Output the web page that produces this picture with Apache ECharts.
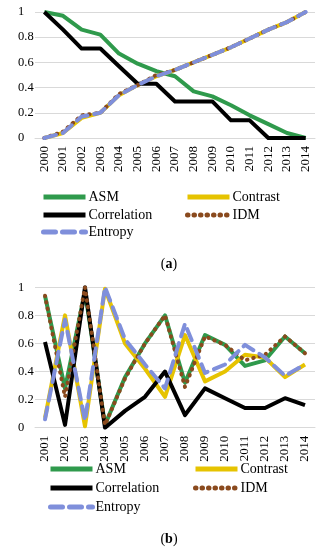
<!DOCTYPE html>
<html><head><meta charset="utf-8">
<script src="https://cdn.jsdelivr.net/npm/echarts@6/dist/echarts.min.js"></script>
<style>html,body{margin:0;padding:0;background:#fff}#c{width:328px;height:550px}</style>
</head><body><div id="c"></div>
<script>
var yearsA = ['2000','2001','2002','2003','2004','2005','2006','2007','2008','2009','2010','2011','2012','2013','2014'];
var asmA = [1.0, 0.97, 0.86, 0.82, 0.67, 0.59, 0.53, 0.49, 0.37, 0.33, 0.26, 0.18, 0.11, 0.04, 0];
var contrastA = [0, 0.04, 0.16, 0.2, 0.34, 0.42, 0.49, 0.54, 0.6, 0.66, 0.72, 0.79, 0.86, 0.92, 1.0];
var corrA = [1, 0.86, 0.71, 0.71, 0.57, 0.43, 0.43, 0.29, 0.29, 0.29, 0.14, 0.14, 0, 0, 0];
var idmA = [0, 0.05, 0.18, 0.2, 0.35, 0.42, 0.5, 0.54, 0.6, 0.66, 0.72, 0.79, 0.86, 0.92, 1.0];
var entA = [0, 0.04, 0.17, 0.2, 0.34, 0.42, 0.49, 0.54, 0.6, 0.66, 0.72, 0.79, 0.86, 0.92, 1.0];

var yearsB = ['2001','2002','2003','2004','2005','2006','2007','2008','2009','2010','2011','2012','2013','2014'];
var asmB = [0.94, 0.28, 0.97, 0.02, 0.36, 0.6, 0.8, 0.32, 0.66, 0.59, 0.44, 0.48, 0.65, 0.53];
var contrastB = [0.07, 0.8, 0.01, 0.99, 0.6, 0.42, 0.22, 0.66, 0.33, 0.4, 0.52, 0.5, 0.36, 0.45];
var corrB = [0.61, 0.02, 1.0, 0.0, 0.12, 0.22, 0.4, 0.09, 0.28, 0.21, 0.14, 0.14, 0.21, 0.16];
var idmB = [0.94, 0.22, 1.0, 0.02, 0.35, 0.6, 0.8, 0.29, 0.65, 0.59, 0.48, 0.52, 0.65, 0.53];
var entB = [0.06, 0.77, 0.05, 1.0, 0.63, 0.45, 0.28, 0.74, 0.39, 0.45, 0.59, 0.5, 0.37, 0.45];

var yTicks = [0, 0.2, 0.4, 0.6, 0.8, 1];
var names = ['ASM', 'Contrast', 'Correlation', 'IDM', 'Entropy'];

var FONT = '"Liberation Serif", "DejaVu Serif", serif';
var colors = {ASM:'#2f9a4c', Contrast:'#e6c300', Correlation:'#000000', IDM:'#8a4a1e', Entropy:'#7f8fdb'};
var styles = {
  ASM: {width:4, type:'solid'},
  Contrast: {width:4, type:'solid'},
  Correlation: {width:4, type:'solid'},
  IDM: {width:4, type:[0.5, 6], cap:'round'},
  Entropy: {width:4, type:[12, 7], cap:'round'}
};
var dataA = {ASM:asmA, Contrast:contrastA, Correlation:corrA, IDM:idmA, Entropy:entA};
var dataB = {ASM:asmB, Contrast:contrastB, Correlation:corrB, IDM:idmB, Entropy:entB};

function mkSeries(idx, data) {
  return names.map(function(n){
    return {
      name: n, type:'line', xAxisIndex: idx, yAxisIndex: idx,
      data: data[n], symbol:'none', smooth:false, animation:false,
      lineStyle: {color: colors[n], width: styles[n].width, type: styles[n].type, cap: styles[n].cap || 'butt', join:'round'},
      itemStyle: {color: colors[n]}
    };
  });
}

function mkLegends(x1, x2, tops) {
  var pos = [[x1,tops[0]],[x2,tops[0]],[x1,tops[1]],[x2,tops[1]],[x1,tops[2]]];
  return names.map(function(n,i){
    return {
      show: true, orient:'horizontal', padding: 0,
      data:[n], left: pos[i][0], top: pos[i][1],
      itemWidth: 42, itemHeight: 14, selectedMode:false,
      itemStyle: {opacity: 0},
      lineStyle: {width: 5},
      textStyle: {fontFamily: FONT, fontSize: 14, color:'#000', padding:[0,0,0,-2]}
    };
  });
}

function mkY(idx) {
  return {
    type:'value', gridIndex: idx, min:0, max:1, interval:0.2,
    axisLine:{show:false}, axisTick:{show:false},
    splitLine:{lineStyle:{color:'#d9d9d9', width:1}},
    axisLabel:{align:'left', margin:17, fontFamily: FONT, fontSize:12.5, color:'#000',
      formatter:function(v){ var t = yTicks.filter(function(x){return Math.abs(x-v)<1e-6;}); return t.length ? String(+v.toFixed(1)) : ''; }}
  };
}
function mkX(idx, cats) {
  return {
    type:'category', gridIndex: idx, data: cats, boundaryGap:true,
    axisLine:{show:true, lineStyle:{color:'#d9d9d9', width:1}}, axisTick:{show:false},
    axisLabel:{rotate:90, margin:8, fontFamily: FONT, fontSize:13, color:'#000', interval:0}
  };
}

var chart = echarts.init(document.getElementById('c'), null, {renderer:'canvas'});
chart.setOption({
  backgroundColor:'#fff',
  animation:false,
  grid:[
    {left:35, top:12, width:280, height:126},
    {left:35, top:287.3, width:280, height:140.4}
  ],
  xAxis:[mkX(0, yearsA), mkX(1, yearsB)],
  yAxis:[mkY(0), mkY(1)],
  legend: mkLegends(41, 185, [190, 208, 225]).concat(mkLegends(48, 193, [462, 481, 500])),
  title:[
    {text:'({b|a})', left:164, top:252, textAlign:'center',
     textStyle:{fontFamily:FONT, fontSize:14, fontWeight:'normal', color:'#000', rich:{b:{fontFamily:FONT, fontSize:14, fontWeight:'bold'}}}},
    {text:'({b|b})', left:164, top:527, textAlign:'center',
     textStyle:{fontFamily:FONT, fontSize:14, fontWeight:'normal', color:'#000', rich:{b:{fontFamily:FONT, fontSize:14, fontWeight:'bold'}}}}
  ],
  series: mkSeries(0, dataA).concat(mkSeries(1, dataB))
});
</script></body></html>
